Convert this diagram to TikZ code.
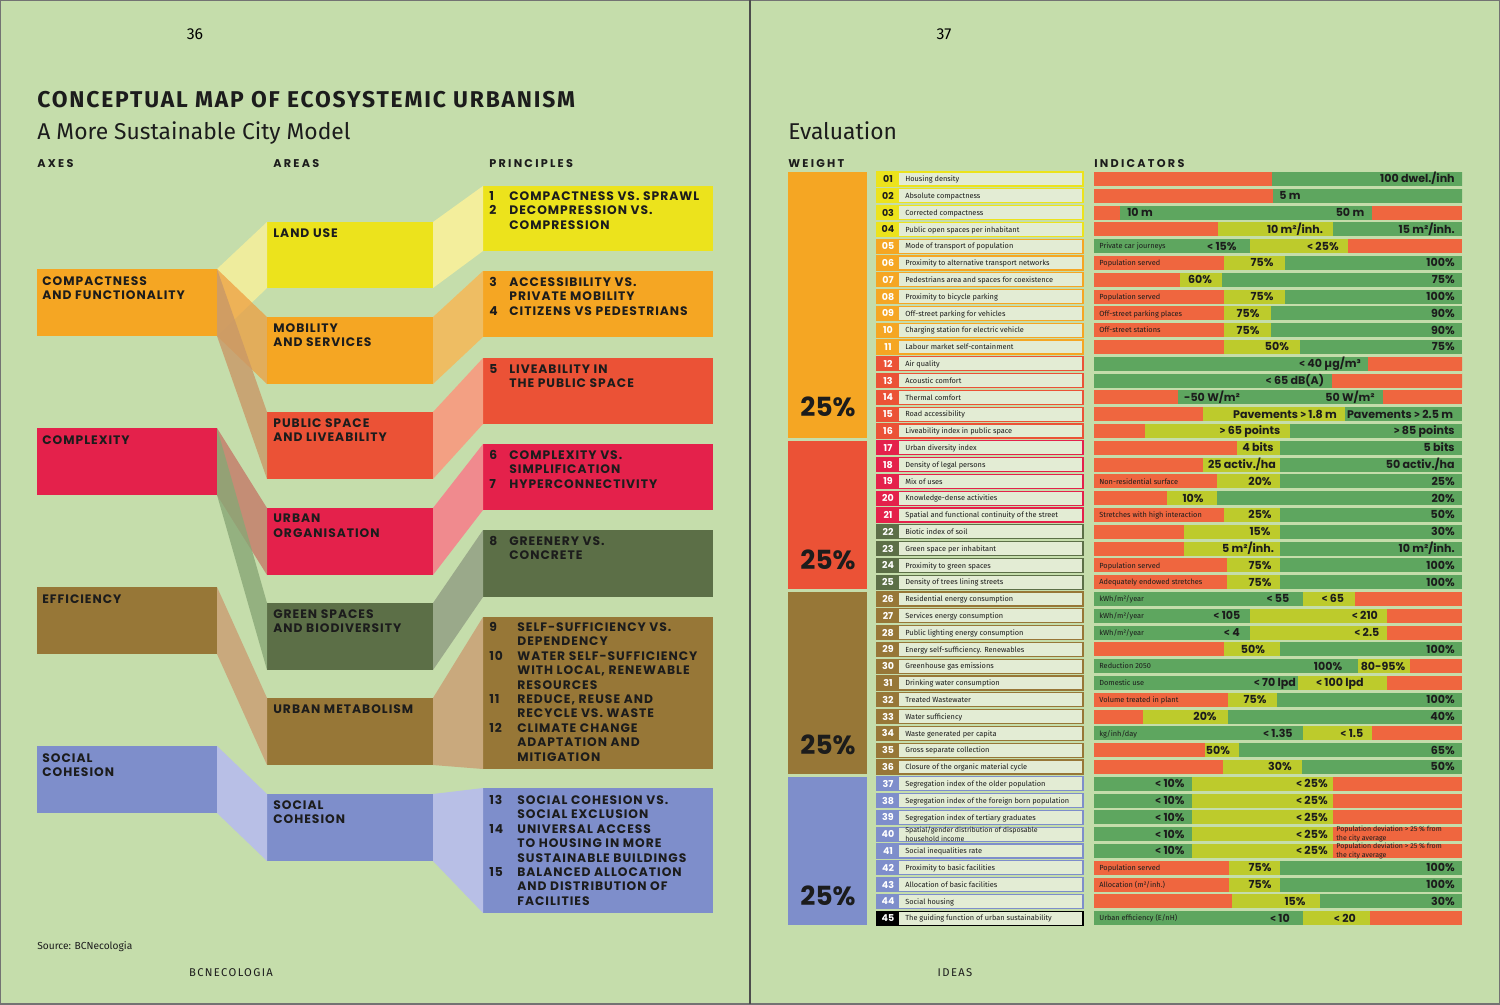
\documentclass[tikz,border=0pt]{standalone}
\usepackage{fontspec}
\setmainfont{Fira Sans}
\newfontfamily\labfont[LetterSpace=8]{Poppins}
\newfontfamily\barfont{Poppins}
\newfontfamily\headfont[LetterSpace=20]{Poppins}
\newfontfamily\trackfont[LetterSpace=12]{Fira Sans}
\newfontfamily\titlefont[LetterSpace=8]{Fira Sans}
\newfontfamily\symfont{Fira Sans}
\usetikzlibrary{fit}

\definecolor{bgGreen}{HTML}{C5DDAB}
\definecolor{cYel}{HTML}{ECE31C}
\definecolor{cOra}{HTML}{F5A623}
\definecolor{cRed}{HTML}{EB5236}
\definecolor{cCrim}{HTML}{E4214B}
\definecolor{cGrn}{HTML}{5C6F47}
\definecolor{cBrn}{HTML}{977737}
\definecolor{cBlu}{HTML}{7E8ECB}
\definecolor{bdYel}{HTML}{F3EE9C}
\definecolor{bdOra}{HTML}{EEBD63}
\definecolor{bdRed}{HTML}{F3A083}
\definecolor{bdCrim}{HTML}{F08A8E}
\definecolor{bdGrn}{HTML}{9AA98A}
\definecolor{bdBrn}{HTML}{C9A97D}
\definecolor{bdBlu}{HTML}{B8BFE6}
\definecolor{lbOra}{HTML}{EF9A3A}
\definecolor{lbTan}{HTML}{C99867}
\definecolor{lbCrim}{HTML}{C47F6C}
\definecolor{lbGrn}{HTML}{88A676}
\definecolor{iRed}{HTML}{EF663F}
\definecolor{iYel}{HTML}{BDCB2C}
\definecolor{iGrn}{HTML}{5EA65F}
\definecolor{nameFill}{HTML}{E3ECD4}
\definecolor{ink}{HTML}{1C1C1C}

\tikzset{
  box/.style={inner sep=0pt, outer sep=0pt, draw=none},
  lab/.style={anchor=north west, inner sep=0pt, align=left, text=ink,
    font=\labfont\bfseries\fontsize{7}{8.2}\selectfont},
  head/.style={anchor=base west, inner sep=0pt, text=ink,
    font=\headfont\bfseries\fontsize{6.4}{7}\selectfont},
  rowbox/.style={inner sep=0pt, outer sep=0pt, fill=nameFill, line width=0.7pt},
  numcell/.style={inner sep=0pt, outer sep=0pt, draw=none},
  numtext/.style={inner sep=0pt, font=\barfont\bfseries\fontsize{5.4}{6}\selectfont},
  nametext/.style={anchor=west, inner sep=0pt, text=ink, text height=3pt, text depth=0pt,
    font=\fontsize{4.2}{4.4}\selectfont},
  twoline/.style={anchor=west, inner sep=0pt, align=left, text=ink,
    font=\fontsize{4}{3.9}\selectfont},
  barlab/.style={inner sep=0pt, text=ink, text height=4.4pt, text depth=0pt,
    font=\barfont\bfseries\fontsize{6.3}{7}\selectfont},
  smalllab/.style={anchor=west, inner sep=0pt, text=ink, text height=3pt, text depth=0pt,
    font=\fontsize{4.2}{4.4}\selectfont},
  wtext/.style={inner sep=0pt, text=ink, font=\barfont\bfseries\fontsize{15}{16}\selectfont}
}

% number column of the principles
\newcommand{\pn}[2][0.4cm]{\makebox[#1][l]{#2}}
% signs in the bar labels
\newcommand{\lessth}{{\symfont <}}
\newcommand{\grth}{{\symfont >}}
% connector band between two boxes
\newcommand{\conn}[3]{\fill[#1] (#2.north east) -- (#3.north west) -- (#3.south west) -- (#2.south east) -- cycle;}
% indicator row: number, label, name, colour, text colour
\newcommand{\irow}[5]{%
  \pgfmathsetmacro{\ry}{179+(#1-1)*16.8}
  \node[rowbox, draw=#4, fit={(877,\ry-7) (1083,\ry+7)}] (ind#1) {};
  \node[numcell, fill=#4, fit={(877,\ry-7) (899,\ry+7)}] (num#1) {};
  \node[numtext, text=#5] (numt#1) at (num#1.center) {#2};
  \node[nametext] (name#1) at (905,\ry) {#3};
}
% indicator bar: row, colour, split, colour, split, colour
\newcommand{\ibar}[6]{%
  \pgfmathsetmacro{\ry}{179+(#1-1)*16.8}
  \fill[#2] (1094,\ry-7) rectangle (#3,\ry+7);
  \fill[#4] (#3,\ry-7) rectangle (#5,\ry+7);
  \fill[#6] (#5,\ry-7) rectangle (1462,\ry+7);
}
\newcommand{\blab}[3]{\node[barlab] (bl#1x#2) at (#2,{179+(#1-1)*16.8}) {#3};}
\newcommand{\rlab}[2]{\node[barlab, anchor=east] (br#1) at (1455,{179+(#1-1)*16.8}) {#2};}
\newcommand{\slab}[2]{\node[smalllab] (bs#1) at (1099,{179+(#1-1)*16.8}) {#2};}

\begin{document}
\begin{tikzpicture}[x=0.02cm,y=-0.02cm]
\useasboundingbox (0,0) rectangle (1500,1004);
\fill[bgGreen] (0,0) rectangle (1500,1004);
\draw[black!55, line width=0.8pt] (0,0) rectangle (1500,1004);
\draw[black!70, line width=1.1pt] (750,0) -- (750,1004);

% ---------- page 36
\node[anchor=base, inner sep=0pt, font=\fontsize{9}{10}\selectfont] (pg36) at (195,39) {36};
\node[anchor=base west, inner sep=0pt, text=ink, font=\titlefont\bfseries\fontsize{13}{15}\selectfont] (title) at (37,107) {CONCEPTUAL MAP OF ECOSYSTEMIC URBANISM};
\node[anchor=base west, inner sep=0pt, text=ink, font=\fontsize{13}{15}\selectfont] (subtitle) at (37,139) {A More Sustainable City Model};
\node[head] (hAxes) at (37,167) {AXES};
\node[head] (hAreas) at (273,167) {AREAS};
\node[head] (hPrin) at (489,167) {PRINCIPLES};

% axes
\node[box, fill=cOra, fit={(37,269) (217,336)}] (axComp) {};
\node[box, fill=cCrim, fit={(37,428) (217,495)}] (axCplx) {};
\node[box, fill=cBrn, fit={(37,587) (217,654)}] (axEff) {};
\node[box, fill=cBlu, fit={(37,746) (217,813)}] (axSoc) {};

% areas
\node[box, fill=cYel, fit={(267,222) (433,288)}] (arLand) {};
\node[box, fill=cOra, fit={(267,317) (433,384)}] (arMob) {};
\node[box, fill=cRed, fit={(267,412) (433,479)}] (arPub) {};
\node[box, fill=cCrim, fit={(267,508) (433,575)}] (arUrb) {};
\node[box, fill=cGrn, fit={(267,603) (433,670)}] (arGreen) {};
\node[box, fill=cBrn, fit={(267,698) (433,765)}] (arMet) {};
\node[box, fill=cBlu, fit={(267,794) (433,861)}] (arSoc) {};

% principles
\node[box, fill=cYel, fit={(483,186) (713,251)}] (prA) {};
\node[box, fill=cOra, fit={(483,271) (713,337)}] (prB) {};
\node[box, fill=cRed, fit={(483,358) (713,424)}] (prC) {};
\node[box, fill=cCrim, fit={(483,444) (713,510)}] (prD) {};
\node[box, fill=cGrn, fit={(483,530) (713,597)}] (prE) {};
\node[box, fill=cBrn, fit={(483,617) (713,769)}] (prF) {};
\node[box, fill=cBlu, fit={(483,788) (713,913)}] (prG) {};

% bands axes -> areas
\conn{bdYel, fill opacity=0.9}{axComp}{arLand}
\conn{lbOra, fill opacity=0.7}{axComp}{arMob}
\conn{lbTan, fill opacity=0.8}{axComp}{arPub}
\conn{lbCrim, fill opacity=0.85}{axCplx}{arUrb}
\conn{lbGrn, fill opacity=0.8}{axCplx}{arGreen}
\conn{bdBrn}{axEff}{arMet}
\conn{bdBlu}{axSoc}{arSoc}

% bands areas -> principles
\conn{bdYel}{arLand}{prA}
\conn{bdOra}{arMob}{prB}
\conn{bdRed}{arPub}{prC}
\conn{bdCrim}{arUrb}{prD}
\conn{bdGrn}{arGreen}{prE}
\conn{bdBrn}{arMet}{prF}
\conn{bdBlu}{arSoc}{prG}

% labels
\node[lab] (axCompT) at ([shift={(5,7)}]axComp.north west) {COMPACTNESS\\AND FUNCTIONALITY};
\node[lab] (axCplxT) at ([shift={(5,7)}]axCplx.north west) {COMPLEXITY};
\node[lab] (axEffT) at ([shift={(5,7)}]axEff.north west) {EFFICIENCY};
\node[lab] (axSocT) at ([shift={(5,7)}]axSoc.north west) {SOCIAL\\COHESION};

\node[lab] (arLandT) at ([shift={(6,6)}]arLand.north west) {LAND USE};
\node[lab] (arMobT) at ([shift={(6,6)}]arMob.north west) {MOBILITY\\AND SERVICES};
\node[lab] (arPubT) at ([shift={(6,6)}]arPub.north west) {PUBLIC SPACE\\AND LIVEABILITY};
\node[lab] (arUrbT) at ([shift={(6,6)}]arUrb.north west) {URBAN\\ORGANISATION};
\node[lab] (arGreenT) at ([shift={(6,6)}]arGreen.north west) {GREEN SPACES\\AND BIODIVERSITY};
\node[lab] (arMetT) at ([shift={(6,6)}]arMet.north west) {URBAN METABOLISM};
\node[lab] (arSocT) at ([shift={(6,6)}]arSoc.north west) {SOCIAL\\COHESION};

\node[lab] (prAT) at ([shift={(6,5)}]prA.north west) {\pn{1}COMPACTNESS VS. SPRAWL\\\pn{2}DECOMPRESSION VS.\\\hspace*{0.4cm}COMPRESSION};
\node[lab] (prBT) at ([shift={(6,6)}]prB.north west) {\pn{3}ACCESSIBILITY VS.\\\hspace*{0.4cm}PRIVATE MOBILITY\\\pn{4}CITIZENS VS PEDESTRIANS};
\node[lab] (prCT) at ([shift={(6,6)}]prC.north west) {\pn{5}LIVEABILITY IN\\\hspace*{0.4cm}THE PUBLIC SPACE};
\node[lab] (prDT) at ([shift={(6,6)}]prD.north west) {\pn{6}COMPLEXITY VS.\\\hspace*{0.4cm}SIMPLIFICATION\\\pn{7}HYPERCONNECTIVITY};
\node[lab] (prET) at ([shift={(6,6)}]prE.north west) {\pn{8}GREENERY VS.\\\hspace*{0.4cm}CONCRETE};
\node[lab] (prFT) at ([shift={(6,5)}]prF.north west) {\pn[0.56cm]{9}SELF-SUFFICIENCY VS.\\\hspace*{0.56cm}DEPENDENCY\\\pn[0.56cm]{10}WATER SELF-SUFFICIENCY\\\hspace*{0.56cm}WITH LOCAL, RENEWABLE\\\hspace*{0.56cm}RESOURCES\\\pn[0.56cm]{11}REDUCE, REUSE AND\\\hspace*{0.56cm}RECYCLE VS. WASTE\\\pn[0.56cm]{12}CLIMATE CHANGE\\\hspace*{0.56cm}ADAPTATION AND\\\hspace*{0.56cm}MITIGATION};
\node[lab] (prGT) at ([shift={(6,7)}]prG.north west) {\pn[0.56cm]{13}SOCIAL COHESION VS.\\\hspace*{0.56cm}SOCIAL EXCLUSION\\\pn[0.56cm]{14}UNIVERSAL ACCESS\\\hspace*{0.56cm}TO HOUSING IN MORE\\\hspace*{0.56cm}SUSTAINABLE BUILDINGS\\\pn[0.56cm]{15}BALANCED ALLOCATION\\\hspace*{0.56cm}AND DISTRIBUTION OF\\\hspace*{0.56cm}FACILITIES};

\node[anchor=base west, inner sep=0pt, text=ink, font=\fontsize{5.8}{6}\selectfont] (source) at (37,949) {Source: BCNecologia};
\node[anchor=base, inner sep=0pt, text=ink, font=\trackfont\fontsize{6.4}{7}\selectfont] (foot36) at (231,976) {BCNECOLOGIA};

% ---------- page 37
\node[anchor=base, inner sep=0pt, font=\fontsize{9}{10}\selectfont] (pg37) at (944,39) {37};
\node[anchor=base west, inner sep=0pt, text=ink, font=\fontsize{13}{15}\selectfont] (evalT) at (788,139) {Evaluation};
\node[head] (hWeight) at (788,167) {WEIGHT};
\node[head] (hInd) at (1094,167) {INDICATORS};
\node[anchor=base, inner sep=0pt, text=ink, font=\trackfont\fontsize{6.4}{7}\selectfont] (foot37) at (955,976) {IDEAS};

% weights
\node[box, fill=cOra, fit={(788,172) (867,438)}] (wA) {};
\node[box, fill=cRed, fit={(788,441) (867,589)}] (wB) {};
\node[box, fill=cBrn, fit={(788,592) (867,774)}] (wC) {};
\node[box, fill=cBlu, fit={(788,777) (867,925)}] (wD) {};
\node[wtext] (wAT) at (828,407) {25\%};
\node[wtext] (wBT) at (828,560) {25\%};
\node[wtext] (wCT) at (828,745) {25\%};
\node[wtext] (wDT) at (828,896) {25\%};

% indicator names
\irow{1}{01}{Housing density}{cYel}{ink}
\irow{2}{02}{Absolute compactness}{cYel}{ink}
\irow{3}{03}{Corrected compactness}{cYel}{ink}
\irow{4}{04}{Public open spaces per inhabitant}{cYel}{ink}
\irow{5}{05}{Mode of transport of population}{cOra}{white}
\irow{6}{06}{Proximity to alternative transport networks}{cOra}{white}
\irow{7}{07}{Pedestrians area and spaces for coexistence}{cOra}{white}
\irow{8}{08}{Proximity to bicycle parking}{cOra}{white}
\irow{9}{09}{Off-street parking for vehicles}{cOra}{white}
\irow{10}{10}{Charging station for electric vehicle}{cOra}{white}
\irow{11}{11}{Labour market self-containment}{cOra}{white}
\irow{12}{12}{Air quality}{cRed}{white}
\irow{13}{13}{Acoustic comfort}{cRed}{white}
\irow{14}{14}{Thermal comfort}{cRed}{white}
\irow{15}{15}{Road accessibility}{cRed}{white}
\irow{16}{16}{Liveability index in public space}{cRed}{white}
\irow{17}{17}{Urban diversity index}{cCrim}{white}
\irow{18}{18}{Density of legal persons}{cCrim}{white}
\irow{19}{19}{Mix of uses}{cCrim}{white}
\irow{20}{20}{Knowledge-dense activities}{cCrim}{white}
\irow{21}{21}{Spatial and functional continuity of the street}{cCrim}{white}
\irow{22}{22}{Biotic index of soil}{cGrn}{white}
\irow{23}{23}{Green space per inhabitant}{cGrn}{white}
\irow{24}{24}{Proximity to green spaces}{cGrn}{white}
\irow{25}{25}{Density of trees lining streets}{cGrn}{white}
\irow{26}{26}{Residential energy consumption}{cBrn}{white}
\irow{27}{27}{Services energy consumption}{cBrn}{white}
\irow{28}{28}{Public lighting energy consumption}{cBrn}{white}
\irow{29}{29}{Energy self-sufficiency. Renewables}{cBrn}{white}
\irow{30}{30}{Greenhouse gas emissions}{cBrn}{white}
\irow{31}{31}{Drinking water consumption}{cBrn}{white}
\irow{32}{32}{Treated Wastewater}{cBrn}{white}
\irow{33}{33}{Water sufficiency}{cBrn}{white}
\irow{34}{34}{Waste generated per capita}{cBrn}{white}
\irow{35}{35}{Gross separate collection}{cBrn}{white}
\irow{36}{36}{Closure of the organic material cycle}{cBrn}{white}
\irow{37}{37}{Segregation index of the older population}{cBlu}{white}
\irow{38}{38}{Segregation index of the foreign born population}{cBlu}{white}
\irow{39}{39}{Segregation index of tertiary graduates}{cBlu}{white}
\irow{40}{40}{}{cBlu}{white}
\node[twoline] (name40b) at (905,{179+39*16.8}) {Spatial/gender distribution of disposable\\household income};
\irow{41}{41}{Social inequalities rate}{cBlu}{white}
\irow{42}{42}{Proximity to basic facilities}{cBlu}{white}
\irow{43}{43}{Allocation of basic facilities}{cBlu}{white}
\irow{44}{44}{Social housing}{cBlu}{white}
\irow{45}{45}{The guiding function of urban sustainability}{black}{white}

% indicator bars
\ibar{1}{iRed}{1272}{iGrn}{1462}{iGrn} \rlab{1}{100 dwel./inh}
\ibar{2}{iRed}{1273}{iGrn}{1462}{iGrn} \blab{2}{1290}{5 m}
\ibar{3}{iRed}{1120}{iGrn}{1372}{iRed} \blab{3}{1140}{10 m} \blab{3}{1350}{50 m}
\ibar{4}{iRed}{1218}{iYel}{1333}{iGrn} \blab{4}{1295}{10 m²/inh.} \rlab{4}{15 m²/inh.}
\ibar{5}{iGrn}{1250}{iYel}{1348}{iRed} \slab{5}{Private car journeys} \blab{5}{1222}{\lessth{} 15\%} \blab{5}{1323}{\lessth{} 25\%}
\ibar{6}{iRed}{1224}{iYel}{1285}{iGrn} \slab{6}{Population served} \blab{6}{1262}{75\%} \rlab{6}{100\%}
\ibar{7}{iRed}{1180}{iYel}{1222}{iGrn} \blab{7}{1200}{60\%} \rlab{7}{75\%}
\ibar{8}{iRed}{1224}{iYel}{1285}{iGrn} \slab{8}{Population served} \blab{8}{1262}{75\%} \rlab{8}{100\%}
\ibar{9}{iRed}{1224}{iYel}{1271}{iGrn} \slab{9}{Off-street parking places} \blab{9}{1248}{75\%} \rlab{9}{90\%}
\ibar{10}{iRed}{1224}{iYel}{1271}{iGrn} \slab{10}{Off-street stations} \blab{10}{1248}{75\%} \rlab{10}{90\%}
\ibar{11}{iRed}{1224}{iYel}{1300}{iGrn} \blab{11}{1277}{50\%} \rlab{11}{75\%}
\ibar{12}{iGrn}{1368}{iRed}{1462}{iRed} \blab{12}{1330}{\lessth{} 40 µg/m³}
\ibar{13}{iGrn}{1332}{iRed}{1462}{iRed} \blab{13}{1295}{\lessth{} 65 dB(A)}
\ibar{14}{iRed}{1178}{iGrn}{1383}{iRed} \blab{14}{1212}{-50 W/m²} \blab{14}{1350}{50 W/m²}
\ibar{15}{iRed}{1203}{iYel}{1345}{iGrn} \blab{15}{1285}{Pavements \grth{} 1.8 m} \blab{15}{1400}{Pavements \grth{} 2.5 m}
\ibar{16}{iRed}{1145}{iYel}{1290}{iGrn} \blab{16}{1250}{\grth{} 65 points} \rlab{16}{\grth{} 85 points}
\ibar{17}{iRed}{1237}{iYel}{1280}{iGrn} \blab{17}{1258}{4 bits} \rlab{17}{5 bits}
\ibar{18}{iRed}{1203}{iYel}{1280}{iGrn} \blab{18}{1242}{25 activ./ha} \rlab{18}{50 activ./ha}
\ibar{19}{iRed}{1217}{iYel}{1280}{iGrn} \slab{19}{Non-residential surface} \blab{19}{1260}{20\%} \rlab{19}{25\%}
\ibar{20}{iRed}{1167}{iYel}{1217}{iGrn} \blab{20}{1193}{10\%} \rlab{20}{20\%}
\ibar{21}{iRed}{1224}{iYel}{1280}{iGrn} \slab{21}{Stretches with high interaction} \blab{21}{1260}{25\%} \rlab{21}{50\%}
\ibar{22}{iRed}{1184}{iYel}{1280}{iGrn} \blab{22}{1260}{15\%} \rlab{22}{30\%}
\ibar{23}{iRed}{1184}{iYel}{1280}{iGrn} \blab{23}{1248}{5 m²/inh.} \rlab{23}{10 m²/inh.}
\ibar{24}{iRed}{1227}{iYel}{1280}{iGrn} \slab{24}{Population served} \blab{24}{1260}{75\%} \rlab{24}{100\%}
\ibar{25}{iRed}{1227}{iYel}{1280}{iGrn} \slab{25}{Adequately endowed stretches} \blab{25}{1260}{75\%} \rlab{25}{100\%}
\ibar{26}{iGrn}{1303}{iYel}{1355}{iRed} \slab{26}{kWh/m²/year} \blab{26}{1278}{\lessth{} 55} \blab{26}{1333}{\lessth{} 65}
\ibar{27}{iGrn}{1250}{iYel}{1387}{iRed} \slab{27}{kWh/m²/year} \blab{27}{1227}{\lessth{} 105} \blab{27}{1365}{\lessth{} 210}
\ibar{28}{iGrn}{1250}{iYel}{1387}{iRed} \slab{28}{kWh/m²/year} \blab{28}{1232}{\lessth{} 4} \blab{28}{1367}{\lessth{} 2.5}
\ibar{29}{iRed}{1224}{iYel}{1280}{iGrn} \blab{29}{1253}{50\%} \rlab{29}{100\%}
\ibar{30}{iGrn}{1358}{iYel}{1410}{iRed} \slab{30}{Reduction 2050} \blab{30}{1328}{100\%} \blab{30}{1383}{80-95\%}
\ibar{31}{iGrn}{1298}{iYel}{1387}{iRed} \slab{31}{Domestic use} \blab{31}{1275}{\lessth{} 70 lpd} \blab{31}{1340}{\lessth{} 100 lpd}
\ibar{32}{iRed}{1228}{iYel}{1277}{iGrn} \slab{32}{Volume treated in plant} \blab{32}{1255}{75\%} \rlab{32}{100\%}
\ibar{33}{iRed}{1143}{iYel}{1228}{iGrn} \blab{33}{1205}{20\%} \rlab{33}{40\%}
\ibar{34}{iGrn}{1303}{iYel}{1372}{iRed} \slab{34}{kg/inh/day} \blab{34}{1278}{\lessth{} 1.35} \blab{34}{1352}{\lessth{} 1.5}
\ibar{35}{iRed}{1205}{iYel}{1239}{iGrn} \blab{35}{1218}{50\%} \rlab{35}{65\%}
\ibar{36}{iRed}{1223}{iYel}{1302}{iGrn} \blab{36}{1280}{30\%} \rlab{36}{50\%}
\ibar{37}{iGrn}{1192}{iYel}{1333}{iRed} \blab{37}{1170}{\lessth{} 10\%} \blab{37}{1312}{\lessth{} 25\%}
\ibar{38}{iGrn}{1192}{iYel}{1333}{iRed} \blab{38}{1170}{\lessth{} 10\%} \blab{38}{1312}{\lessth{} 25\%}
\ibar{39}{iGrn}{1192}{iYel}{1333}{iRed} \blab{39}{1170}{\lessth{} 10\%} \blab{39}{1312}{\lessth{} 25\%}
\ibar{40}{iGrn}{1192}{iYel}{1333}{iRed} \blab{40}{1170}{\lessth{} 10\%} \blab{40}{1312}{\lessth{} 25\%}
\ibar{41}{iGrn}{1192}{iYel}{1333}{iRed} \blab{41}{1170}{\lessth{} 10\%} \blab{41}{1312}{\lessth{} 25\%}
\node[twoline] (dev40) at (1336,{179+39*16.8}) {Population deviation \grth{} 25 \% from\\the city average};
\node[twoline] (dev41) at (1336,{179+40*16.8}) {Population deviation \grth{} 25 \% from\\the city average};
\ibar{42}{iRed}{1229}{iYel}{1280}{iGrn} \slab{42}{Population served} \blab{42}{1260}{75\%} \rlab{42}{100\%}
\ibar{43}{iRed}{1229}{iYel}{1280}{iGrn} \slab{43}{Allocation (m²/inh.)} \blab{43}{1260}{75\%} \rlab{43}{100\%}
\ibar{44}{iRed}{1232}{iYel}{1320}{iGrn} \blab{44}{1295}{15\%} \rlab{44}{30\%}
\ibar{45}{iGrn}{1303}{iYel}{1370}{iRed} \slab{45}{Urban efficiency (E/nH)} \blab{45}{1280}{\lessth{} 10} \blab{45}{1345}{\lessth{} 20}
\end{tikzpicture}
\end{document}
